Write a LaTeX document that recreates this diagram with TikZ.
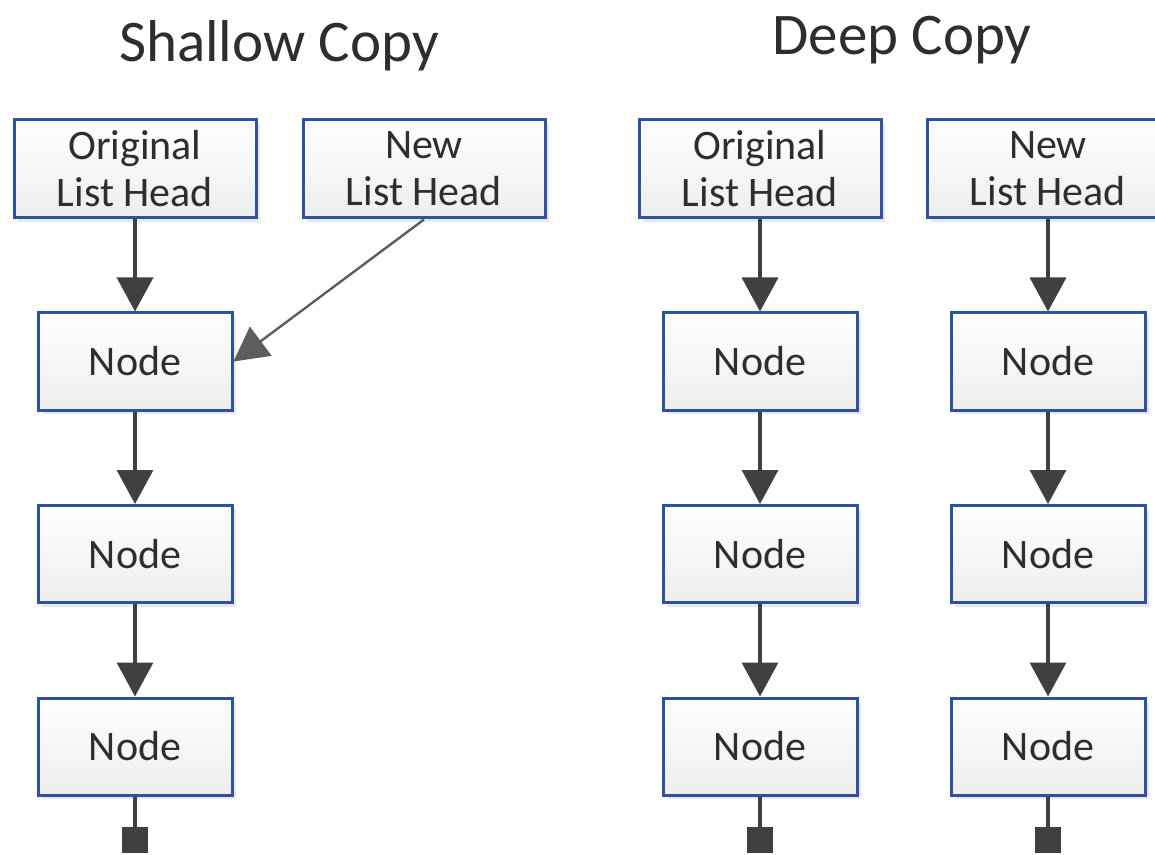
\documentclass[tikz,border=0pt]{standalone}
\usepackage{fontspec}
\setmainfont{Carlito}
\usetikzlibrary{arrows.meta,shadows}

\definecolor{boxblue}{HTML}{2F52A0}
\definecolor{linegray}{HTML}{404040}
\definecolor{textgray}{HTML}{2E2E2E}

\tikzset{
	listbox/.style={draw=boxblue, line width=1.5pt, top color=white, bottom color=black!7,
		text=textgray, font=\fontsize{21}{23.5}\selectfont, align=center, inner sep=0pt,
		minimum width=97pt, minimum height=48.5pt,
		drop shadow={opacity=0.18, shadow xshift=2pt, shadow yshift=-2pt}},
	headbox/.style={listbox, minimum width=121pt, minimum height=49pt},
	ptr/.style={draw=linegray, line width=1.7pt, -{Triangle[length=17pt, width=18pt]}},
	endline/.style={draw=linegray, line width=1.7pt},
	endmark/.style={fill=linegray, inner sep=0pt, minimum size=13pt},
	title/.style={text=textgray, font=\fontsize{29.5}{30}\selectfont, anchor=base}
}

\begin{document}
\begin{tikzpicture}[x=0.5pt, y=-0.5pt]
	\useasboundingbox (0,0) rectangle (1155,855);

	\node[title] (tshallow) at (279,62) {Shallow Copy};
	\node[title] (tdeep) at (902,55) {Deep Copy};

	% shallow copy
	\node[headbox] (lorig) at (135,169) {Original\\List Head};
	\node[headbox] (lnew) at (424,169) {New\\List Head};
	\node[listbox] (l1) at (135,361.5) {Node};
	\node[listbox] (l2) at (135,554) {Node};
	\node[listbox] (l3) at (135,746.5) {Node};
	\node[endmark, anchor=north] (lend) at (135,827) {};

	\draw[ptr] (lorig) -- (l1);
	\draw[ptr, line width=1.2pt, draw=linegray!85] (lnew.south) -- (l1.east);
	\draw[ptr] (l1) -- (l2);
	\draw[ptr] (l2) -- (l3);
	\draw[endline] (l3) -- (lend);

	% deep copy
	\node[headbox] (rorig) at (760,169) {Original\\List Head};
	\node[headbox] (rnew) at (1048,169) {New\\List Head};
	\foreach \c/\x in {a/760, b/1048} {
		\node[listbox] (\c1) at (\x,361.5) {Node};
		\node[listbox] (\c2) at (\x,554) {Node};
		\node[listbox] (\c3) at (\x,746.5) {Node};
		\node[endmark, anchor=north] (\c end) at (\x,827) {};
		\draw[ptr] (\c1) -- (\c2);
		\draw[ptr] (\c2) -- (\c3);
		\draw[endline] (\c3) -- (\c end);
	}
	\draw[ptr] (rorig) -- (a1);
	\draw[ptr] (rnew) -- (b1);
\end{tikzpicture}
\end{document}
